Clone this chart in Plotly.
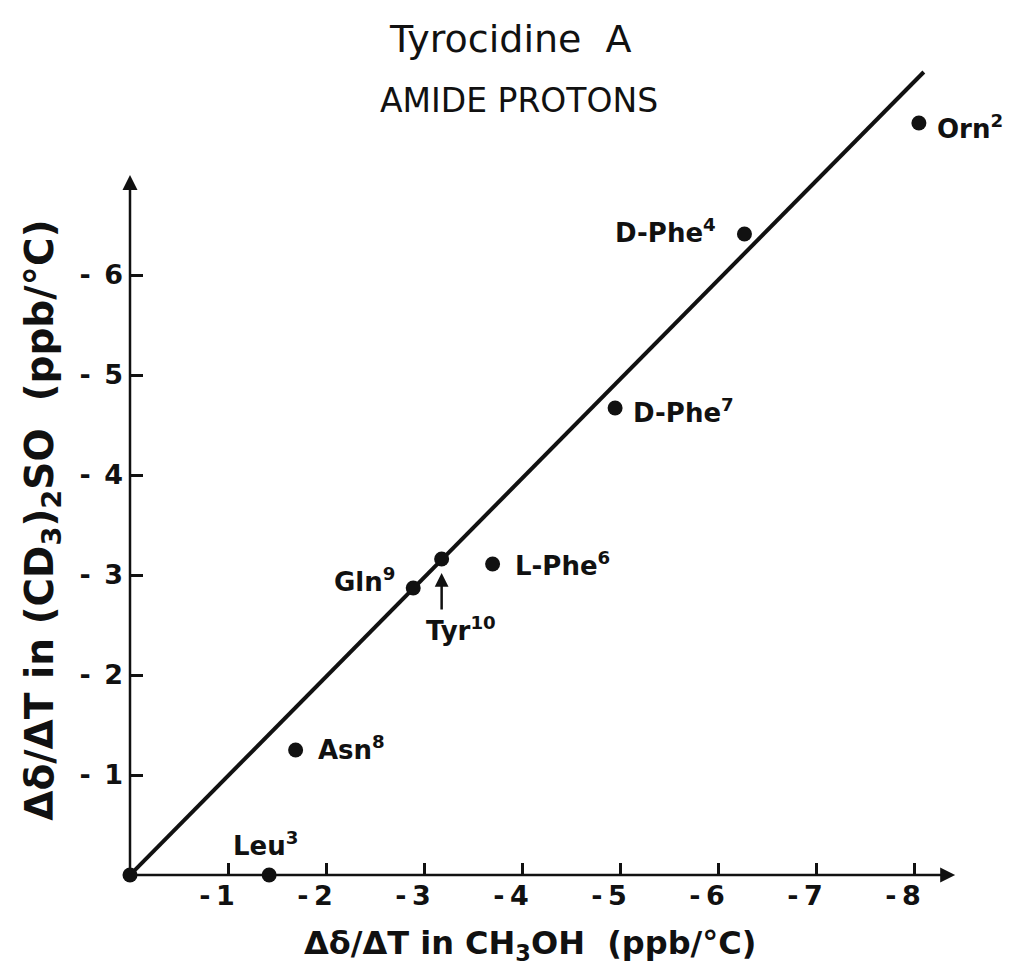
import plotly.graph_objects as go

# Temperature coefficients of the amide NH resonances (ppb/°C)
residues = ["Orn", "D-Phe", "D-Phe", "L-Phe", "Tyr", "Gln", "Asn", "Leu"]
positions = ["2", "4", "7", "6", "10", "9", "8", "3"]
dd_ch3oh = [-8.05, -6.27, -4.95, -3.70, -3.18, -2.89, -1.69, -1.42]
dd_dmso = [-7.52, -6.41, -4.67, -3.11, -3.16, -2.87, -1.25, 0.0]

# correlation line drawn through the data
line_x = [0.0, -8.1]
line_y = [0.0, -8.03]

x_ticks = [-1, -2, -3, -4, -5, -6, -7, -8]
y_ticks = [-1, -2, -3, -4, -5, -6]

FONT = "DejaVu Sans, sans-serif"
INK = "#111111"
LABEL_FONT = dict(family=FONT, size=26, color=INK, weight="bold")

fig = go.Figure()

fig.add_trace(go.Scatter(
    x=line_x, y=line_y, mode="lines",
    line=dict(color=INK, width=4), hoverinfo="skip", showlegend=False,
    cliponaxis=False,
))

fig.add_trace(go.Scatter(
    x=dd_ch3oh + [0.0], y=dd_dmso + [0.0], mode="markers",
    marker=dict(color=INK, size=15), showlegend=False, cliponaxis=False,
))

# axis arrows
fig.add_annotation(x=-8.42, y=0, ax=0, ay=0, xref="x", yref="y", axref="x", ayref="y",
                   text="", showarrow=True, arrowhead=2, arrowsize=1.2,
                   arrowwidth=2.5, arrowcolor=INK)
fig.add_annotation(x=0, y=-7.0, ax=0, ay=0, xref="x", yref="y", axref="x", ayref="y",
                   text="", showarrow=True, arrowhead=2, arrowsize=1.2,
                   arrowwidth=2.5, arrowcolor=INK)

# residue labels: (x anchor, y anchor, x shift, y shift)
label_place = {
    "Orn2": ("left", "middle", 16, -4),
    "D-Phe4": ("right", "middle", -26, 3),
    "D-Phe7": ("left", "middle", 16, -3),
    "L-Phe6": ("left", "middle", 20, 0),
    "Gln9": ("right", "middle", -16, 8),
    "Tyr10": ("center", "top", 19, -51),
    "Asn8": ("left", "middle", 20, 2),
    "Leu3": ("center", "bottom", -4, 12),
}
for name, pos, xv, yv in zip(residues, positions, dd_ch3oh, dd_dmso):
    key = name + pos
    xa, ya, xs, ys = label_place[key]
    fig.add_annotation(x=xv, y=yv, text=f"{name}<sup>{pos}</sup>", showarrow=False,
                       xanchor=xa, yanchor=ya, xshift=xs, yshift=ys, font=LABEL_FONT)
    if key == "Tyr10":
        fig.add_annotation(x=xv, y=yv, ax=xv, ay=yv + 0.52, xref="x", yref="y",
                           axref="x", ayref="y", standoff=14, text="", showarrow=True,
                           arrowhead=2, arrowsize=1.1, arrowwidth=2.5, arrowcolor=INK)

# titles
fig.add_annotation(x=0.457, y=1.0, xref="paper", yref="paper",
                   xanchor="center", yanchor="middle", yshift=16,
                   text="Tyrocidine\u00a0\u00a0A", showarrow=False,
                   font=dict(family=FONT, size=38, color=INK))
fig.add_annotation(x=0.467, y=0.945, xref="paper", yref="paper",
                   xanchor="center", yanchor="middle",
                   text="AMIDE PROTONS", showarrow=False,
                   font=dict(family=FONT, size=33, color=INK))
fig.add_annotation(x=0.480, y=-0.085, xref="paper", yref="paper",
                   xanchor="center", yanchor="middle",
                   text="Δδ/ΔT in CH<sub>3</sub>OH\u00a0\u00a0(ppb/°C)",
                   showarrow=False, font=dict(family=FONT, size=32, color=INK, weight="bold"))
fig.add_annotation(x=-0.106, y=0.433, xref="paper", yref="paper", textangle=-90,
                   xanchor="center", yanchor="middle",
                   text="Δδ/ΔT in (CD<sub>3</sub>)<sub>2</sub>SO\u00a0\u00a0(ppb/°C)",
                   showarrow=False, font=dict(family=FONT, size=39, color=INK, weight="bold"))

tick_font = dict(family=FONT, size=27, color=INK, weight="bold")
fig.update_xaxes(
    range=[0, -8.5], tickvals=x_ticks, ticktext=[f"-\u2009{abs(v)}" for v in x_ticks],
    ticks="inside", ticklen=12, tickwidth=2.5, tickcolor=INK,
    showline=False, showgrid=False, zeroline=False,
    tickfont=tick_font, ticklabelshift=11, ticklabelstandoff=2,
)
fig.update_yaxes(
    range=[0, -8.2], tickvals=y_ticks, ticktext=[f"-\u2002{abs(v)}" for v in y_ticks],
    ticks="inside", ticklen=13, tickwidth=2.5, tickcolor=INK,
    showline=False, showgrid=False, zeroline=False,
    tickfont=tick_font, ticklabelstandoff=6,
)

fig.update_layout(
    width=1013, height=969,
    margin=dict(l=130, r=50, t=55, b=94),
    paper_bgcolor="white", plot_bgcolor="white",
    showlegend=False,
)

fig.write_html("out.html")
